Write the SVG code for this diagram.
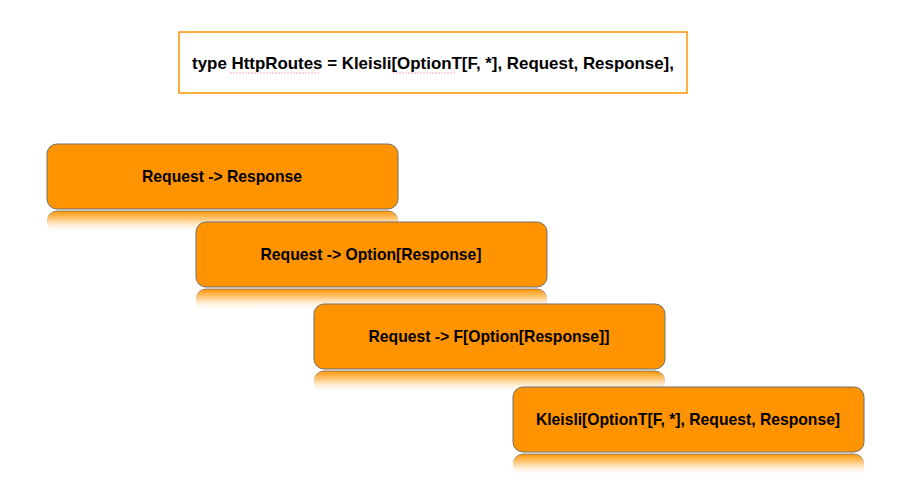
<svg xmlns="http://www.w3.org/2000/svg" width="909" height="503" viewBox="0 0 909 503">
<defs>
<linearGradient id="refl" x1="0" y1="0" x2="0" y2="1">
<stop offset="0" stop-color="#ff9400" stop-opacity="1"/>
<stop offset="0.35" stop-color="#ffb650" stop-opacity="0.8"/>
<stop offset="1" stop-color="#ffffff" stop-opacity="0"/>
</linearGradient>
<linearGradient id="reflStroke" x1="0" y1="0" x2="0" y2="1">
<stop offset="0" stop-color="#6f6f6f" stop-opacity="0.8"/>
<stop offset="0.5" stop-color="#6f6f6f" stop-opacity="0"/>
</linearGradient>
</defs>
<style>
.box{fill:#ff9400;stroke:#707070;stroke-width:1;}
.refl{fill:url(#refl);stroke:url(#reflStroke);stroke-width:1;}
.lbl{font-family:"Liberation Sans",Arial,sans-serif;font-size:15.7px;font-weight:bold;fill:#000;text-anchor:middle;}
.ttl{font-size:16.9px;}
.title{fill:#fff;stroke:#ff9400;stroke-width:1.5;}
.squig{stroke:#f4a6b8;stroke-width:1;fill:none;stroke-dasharray:2 1;}
</style>
<rect width="909" height="503" fill="#fff"/>
<g id="title">
<rect class="title" x="179" y="32" width="508" height="61"/>
<text class="lbl ttl" x="433" y="69">type HttpRoutes = Kleisli[OptionT[F, *], Request, Response],</text>
<line class="squig" x1="230" y1="73" x2="319" y2="73"/>
<line class="squig" x1="393" y1="73" x2="456" y2="73"/>
</g>
<g id="node1">
<rect class="refl" x="47" y="211" width="351" height="22" rx="10"/>
<rect class="box" x="47" y="144" width="351" height="65" rx="10"/>
<text class="lbl" x="222" y="182">Request -&gt; Response</text>
</g>
<g id="node2">
<rect class="refl" x="196" y="289" width="351" height="22" rx="10"/>
<rect class="box" x="196" y="222" width="351" height="65" rx="10"/>
<text class="lbl" x="371" y="260">Request -&gt; Option[Response]</text>
</g>
<g id="node3">
<rect class="refl" x="314" y="371" width="351" height="22" rx="10"/>
<rect class="box" x="314" y="304" width="351" height="65" rx="10"/>
<text class="lbl" x="489" y="342">Request -&gt; F[Option[Response]]</text>
</g>
<g id="node4">
<rect class="refl" x="513" y="454" width="351" height="22" rx="10"/>
<rect class="box" x="513" y="387" width="351" height="65" rx="10"/>
<text class="lbl" x="688" y="425">Kleisli[OptionT[F, *], Request, Response]</text>
</g>
<g id="connectors"></g>
</svg>
